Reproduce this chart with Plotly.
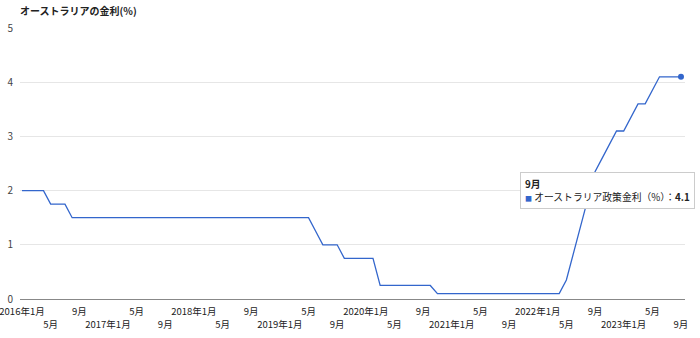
import plotly.graph_objects as go

# Months: Jan 2016 .. Sep 2023 (categories)
months = [f"{2016 + i // 12}-{i % 12 + 1:02d}" for i in range(93)]

# Australian policy rate (%), monthly
rates = [
    # 2016
    2.0, 2.0, 2.0, 2.0, 1.75, 1.75, 1.75, 1.5, 1.5, 1.5, 1.5, 1.5,
    # 2017
    1.5, 1.5, 1.5, 1.5, 1.5, 1.5, 1.5, 1.5, 1.5, 1.5, 1.5, 1.5,
    # 2018
    1.5, 1.5, 1.5, 1.5, 1.5, 1.5, 1.5, 1.5, 1.5, 1.5, 1.5, 1.5,
    # 2019
    1.5, 1.5, 1.5, 1.5, 1.5, 1.25, 1.0, 1.0, 1.0, 0.75, 0.75, 0.75,
    # 2020
    0.75, 0.75, 0.25, 0.25, 0.25, 0.25, 0.25, 0.25, 0.25, 0.25, 0.1, 0.1,
    # 2021
    0.1, 0.1, 0.1, 0.1, 0.1, 0.1, 0.1, 0.1, 0.1, 0.1, 0.1, 0.1,
    # 2022
    0.1, 0.1, 0.1, 0.1, 0.35, 0.85, 1.35, 1.85, 2.35, 2.6, 2.85, 3.1,
    # 2023
    3.1, 3.35, 3.6, 3.6, 3.85, 4.1, 4.1, 4.1, 4.1,
]

tick_months = months[::4]
tick_labels = [
    "2016年1月", "<br>5月", "9月", "<br>2017年1月", "5月", "<br>9月",
    "2018年1月", "<br>5月", "9月", "<br>2019年1月", "5月", "<br>9月",
    "2020年1月", "<br>5月", "9月", "<br>2021年1月", "5月", "<br>9月",
    "2022年1月", "<br>5月", "9月", "<br>2023年1月", "5月", "<br>9月",
]

series_name = "オーストラリア政策金利（%）"
title_text = "オーストラリアの金利(%)"

FONT = "Noto Sans CJK JP"
BLUE = "#3366cc"

fig = go.Figure()
fig.add_trace(go.Scatter(
    x=months, y=rates, mode="lines", name=series_name,
    line=dict(color=BLUE, width=1.3),
    hoverinfo="skip",
))
fig.add_trace(go.Scatter(
    x=[months[-1]], y=[rates[-1]], mode="markers",
    marker=dict(color=BLUE, size=6),
    hoverinfo="skip", showlegend=False,
))

# Tooltip-like box for the last point
fig.add_annotation(
    xref="paper", yref="paper", x=(520 - 20) / 665, y=(299 - 172) / 271,
    xanchor="left", yanchor="top", align="left", showarrow=False,
    text=(f"<b>{months[-1][5:].lstrip('0')}月</b><br>"
          f"<span style='color:{BLUE};font-size:7px'>■</span> {series_name}：<b>{rates[-1]}</b>"),
    font=dict(family=FONT, size=9.8, color="#222"),
    bgcolor="white", bordercolor="#cccccc", borderwidth=1, borderpad=4,
)

fig.update_layout(
    width=700, height=338,
    margin=dict(l=20, r=15, t=28, b=39),
    paper_bgcolor="white", plot_bgcolor="white",
    showlegend=False,
    font=dict(family=FONT, size=10, color="#222"),
    title=dict(text=f"<b>{title_text}</b>", x=20 / 700, xanchor="left",
               y=1 - 11 / 338, yanchor="middle", yref="container",
               font=dict(family=FONT, size=10, color="#222")),
    xaxis=dict(
        type="category", range=[-0.28, 92.56], automargin=False,
        tickmode="array", tickvals=tick_months, ticktext=tick_labels,
        showgrid=False, zeroline=False, showline=False,
        ticks="outside", ticklen=4, tickcolor="rgba(0,0,0,0)",
        tickangle=0, tickfont=dict(family=FONT, size=9.5, color="#222"),
    ),
    yaxis=dict(
        range=[0, 5], tickvals=[0, 1, 2, 3, 4, 5], automargin=False,
        showgrid=True, gridcolor="#e6e6e6", gridwidth=1,
        zeroline=True, zerolinecolor="#888888", zerolinewidth=1,
        showline=False, ticks="outside", ticklen=4, tickcolor="rgba(0,0,0,0)",
        tickfont=dict(family=FONT, size=10, color="#444"),
    ),
)

fig.write_html("out.html")
